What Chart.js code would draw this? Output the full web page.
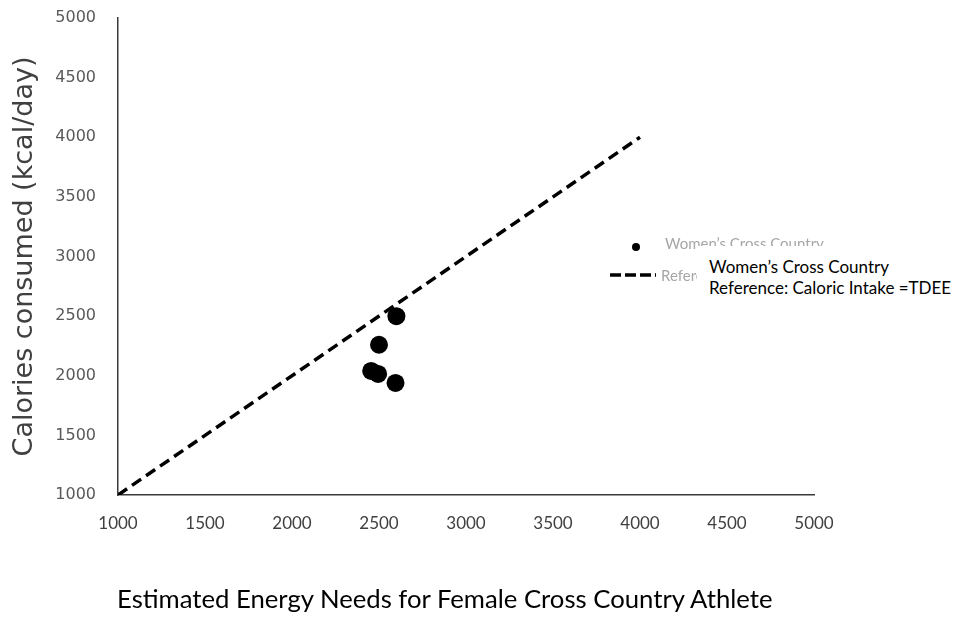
<!DOCTYPE html>
<html>
<head>
<meta charset="utf-8">
<script src="https://cdn.jsdelivr.net/npm/chart.js@4.4.1/dist/chart.umd.min.js"></script>
<style>
  html, body { margin: 0; padding: 0; background: #fff; }
  #wrap { position: relative; width: 955px; height: 627px; overflow: hidden; background: #fff; }
  #chart { position: absolute; left: 0; top: 0; }
  #note {
    position: absolute; left: 697px; top: 246px; width: 258px; height: 56px;
    background: #fff; box-sizing: border-box; padding: 10px 0 0 12px;
    font-family: Lato, "Open Sans", sans-serif; font-size: 17px; line-height: 21px; color: #000;
    white-space: nowrap;
  }
  #caption {
    position: absolute; left: 117px; top: 582px;
    font-family: Lato, "Open Sans", sans-serif; font-size: 25.7px; line-height: 32px; color: #000;
    white-space: nowrap;
  }
</style>
</head>
<body>
<div id="wrap">
  <canvas id="chart" width="955" height="627"></canvas>
  <div id="note">Women’s Cross Country<br>Reference: Caloric Intake =TDEE</div>
  <div id="caption">Estimated Energy Needs for Female Cross Country Athlete</div>
</div>
<script>
// Estimated energy needs (TDEE) vs. calories consumed, kcal/day
const athleteTDEE   = [2600, 2500, 2455, 2495, 2595];
const athleteIntake = [2500, 2260, 2040, 2015, 1940];

// Identity line: intake equals TDEE
const referenceTDEE   = [1000, 4000];
const referenceIntake = [1000, 4000];

const seriesNames = ["Women’s Cross Country", "Reference: Caloric Intake =TDEE"];
const axisTicks = [1000, 1500, 2000, 2500, 3000, 3500, 4000, 4500, 5000];
const yAxisTitle = "Calories consumed (kcal/day)";

const toPoints = (xs, ys) => xs.map((x, i) => ({ x: x, y: ys[i] }));

// Wanted plot frame inside the 955x627 canvas
const frame = { top: 18, bottom: 495 };
let xAxisHeight = 627 - frame.bottom;

// Legend drawn at a fixed spot inside the plot, partly covered by the note box
const fixedLegend = {
  id: 'fixedLegend',
  afterDraw(chart) {
    const ctx = chart.ctx;
    const ds = chart.data.datasets;
    ctx.save();
    ctx.fillStyle = ds[0].backgroundColor;
    ctx.beginPath();
    ctx.arc(636, 247, 4, 0, Math.PI * 2);
    ctx.fill();
    ctx.strokeStyle = ds[1].borderColor;
    ctx.lineWidth = 3.5;
    ctx.setLineDash([11, 4]);
    ctx.beginPath();
    ctx.moveTo(610, 275);
    ctx.lineTo(656, 275);
    ctx.stroke();
    ctx.setLineDash([]);
    ctx.fillStyle = '#a6a6a6';
    ctx.font = '15px Lato';
    ctx.textBaseline = 'alphabetic';
    ctx.fillText(ds[0].label, 665, 249);
    ctx.textBaseline = 'middle';
    ctx.fillText(ds[1].label, 661, 276);
    ctx.restore();
  }
};

const plainTick = (v) => String(v);

const chart = new Chart(document.getElementById('chart'), {
  type: 'scatter',
  data: {
    datasets: [
      {
        label: seriesNames[0],
        data: toPoints(athleteTDEE, athleteIntake),
        backgroundColor: '#000',
        borderWidth: 0,
        pointRadius: 9,
        pointHoverRadius: 9,
        order: 1
      },
      {
        label: seriesNames[1],
        data: toPoints(referenceTDEE, referenceIntake),
        showLine: true,
        borderColor: '#000',
        borderWidth: 3.5,
        borderDash: [11, 6],
        pointRadius: 0,
        fill: false,
        order: 2
      }
    ]
  },
  options: {
    responsive: false,
    animation: false,
    layout: { padding: { top: frame.top, right: 141, left: 0, bottom: 0 } },
    plugins: {
      legend: { display: false },
      tooltip: { enabled: false },
      title: { display: false }
    },
    scales: {
      x: {
        type: 'linear',
        min: 1000, max: 5000,
        afterBuildTicks: (s) => { s.ticks = axisTicks.map(v => ({ value: v })); },
        afterFit: (s) => { s.height = xAxisHeight; },
        grid: { display: false, drawTicks: false },
        border: { display: true, color: '#3a3a3a', width: 1.5 },
        ticks: {
          padding: 18,
          color: '#404040',
          font: { family: 'Lato', size: 17 },
          callback: plainTick
        }
      },
      y: {
        type: 'linear',
        min: 1000, max: 5000,
        afterBuildTicks: (s) => { s.ticks = axisTicks.map(v => ({ value: v })); },
        afterFit: (s) => { s.width = 118; },
        // invisible tick marks give the labels their gap from the axis line
        grid: {
          display: true, drawOnChartArea: false, drawTicks: true,
          tickLength: 21, tickColor: 'rgba(0,0,0,0)'
        },
        border: { display: true, color: '#3a3a3a', width: 1.5 },
        ticks: {
          padding: 1,
          color: '#595959',
          font: { family: 'DejaVu Sans', size: 16 },
          callback: plainTick
        },
        title: {
          display: true,
          text: yAxisTitle,
          color: '#404040',
          font: { family: 'DejaVu Sans', size: 27 },
          padding: { top: 9, bottom: 0 }
        }
      }
    }
  },
  plugins: [fixedLegend]
});

// Nudge the layout until the plot frame sits where it should
for (let i = 0; i < 4; i++) {
  const dTop = chart.chartArea.top - frame.top;
  const dBottom = chart.chartArea.bottom - frame.bottom;
  if (Math.abs(dTop) < 0.5 && Math.abs(dBottom) < 0.5) break;
  chart.options.layout.padding.top -= dTop;
  xAxisHeight += dBottom;
  chart.update();
}
</script>
</body>
</html>
